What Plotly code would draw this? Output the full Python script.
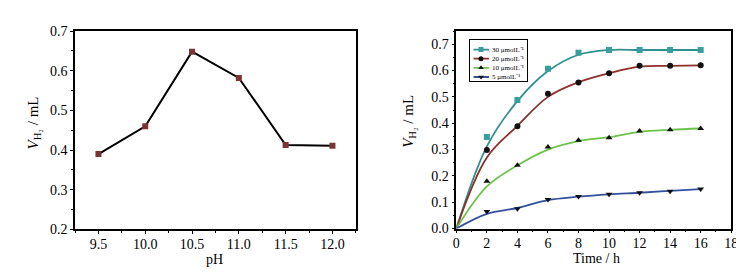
import plotly.graph_objects as go

# ---- Left panel data ----
ph = [9.5, 10.0, 10.5, 11.0, 11.5, 12.0]
vh2_ph = [0.390, 0.460, 0.648, 0.582, 0.413, 0.411]

# ---- Right panel data ----
time_pts = [2, 4, 6, 8, 10, 12, 14, 16]
v30 = [0.348, 0.488, 0.607, 0.668, 0.678, 0.678, 0.678, 0.678]
v20 = [0.298, 0.388, 0.512, 0.555, 0.590, 0.618, 0.618, 0.620]
v10 = [0.180, 0.240, 0.310, 0.335, 0.345, 0.370, 0.375, 0.380]
v5 = [0.065, 0.075, 0.110, 0.122, 0.130, 0.136, 0.142, 0.150]

# fitted curves
time_fit = [0, 2, 4, 6, 8, 10, 12, 14, 16]
f30 = [0.0, 0.312, 0.484, 0.598, 0.660, 0.678, 0.678, 0.678, 0.678]
f20 = [0.0, 0.270, 0.390, 0.500, 0.556, 0.590, 0.615, 0.618, 0.620]
f10 = [0.0, 0.160, 0.240, 0.300, 0.332, 0.347, 0.367, 0.375, 0.380]
f5 = [0.0, 0.056, 0.078, 0.108, 0.121, 0.130, 0.136, 0.143, 0.150]

labels = ["30 μmolL⁻¹", "20 μmolL⁻¹", "10 μmolL⁻¹", "5 μmolL⁻¹"]
line_colors = ["#2f9090", "#8e2f2a", "#6cc24a", "#34509c"]
marker_colors = ["#3a9e9e", "#111111", "#111111", "#111111"]
symbols = ["square", "circle", "triangle-up", "triangle-down"]

W, H = 744, 272
FONT = "Liberation Serif"

fig = go.Figure()

fig.add_trace(go.Scatter(
    x=ph, y=vh2_ph, mode="lines+markers", xaxis="x", yaxis="y",
    line=dict(color="black", width=2),
    marker=dict(symbol="square", size=6, color="#7a3434"),
    showlegend=False))

for fx, mx, lc, mc, sym in zip([f30, f20, f10, f5], [v30, v20, v10, v5],
                               line_colors, marker_colors, symbols):
    fig.add_trace(go.Scatter(
        x=time_fit, y=fx, mode="lines", xaxis="x2", yaxis="y2",
        line=dict(color=lc, width=1.8, shape="spline", smoothing=1.0),
        showlegend=False, hoverinfo="skip"))
    fig.add_trace(go.Scatter(
        x=time_pts, y=mx, mode="markers", xaxis="x2", yaxis="y2",
        marker=dict(symbol=sym, size=6, color=mc), showlegend=False))

# ---- hand-made legend box (small, like the original) ----
leg_rows = [0.76, 0.54, 0.32, 0.10]
for lab, lc, mc, sym, ry in zip(labels, line_colors, marker_colors, symbols, leg_rows):
    fig.add_trace(go.Scatter(
        x=[0.06, 0.33], y=[ry, ry], mode="lines", xaxis="x3", yaxis="y3",
        line=dict(color=lc, width=1.8), showlegend=False, hoverinfo="skip"))
    fig.add_trace(go.Scatter(
        x=[0.19], y=[ry], mode="markers", xaxis="x3", yaxis="y3",
        marker=dict(symbol=sym, size=5, color=mc), showlegend=False, hoverinfo="skip"))
    fig.add_annotation(x=0.34, y=ry, xref="x3", yref="y3", text=lab, showarrow=False,
                       xanchor="left", yanchor="middle",
                       font=dict(family=FONT, size=7, color="black"))


def px_dom_x(a, b):
    return [a / W, b / W]


def px_dom_y(top, bottom):
    return [1 - bottom / H, 1 - top / H]


axis_common = dict(showline=True, linecolor="black", linewidth=1.5, mirror=True,
                   ticks="outside", ticklen=3, tickwidth=1.3, tickcolor="black",
                   showgrid=False, zeroline=False,
                   tickfont=dict(family=FONT, size=14, color="black"))

ytitle = "<i>V</i><sub>H₂</sub> / mL"
for txt, xp, yp, ang, fs in [("pH", 206, 259, 0, 14), ("Time / h", 593, 258, 0, 14),
                             (ytitle, 22, 114, -90, 15), (ytitle, 403, 113, -90, 15)]:
    fig.add_annotation(x=xp / W, y=1 - yp / H, xref="paper", yref="paper", text=txt,
                       showarrow=False, textangle=ang, xanchor="center", yanchor="middle",
                       font=dict(family=FONT, size=fs, color="black"))

fig.update_layout(
    width=W, height=H, margin=dict(l=0, r=0, t=0, b=0),
    paper_bgcolor="white", plot_bgcolor="white",
    font=dict(family=FONT, color="black"),
    showlegend=False,
    xaxis=dict(domain=px_dom_x(64, 349), range=[9.25, 12.25], tickvals=[9.5, 10, 10.5, 11, 11.5, 12],
               ticktext=["9.5", "10.0", "10.5", "11.0", "11.5", "12.0"],
               minor=dict(ticks="outside", dtick=0.25, tick0=9.25, ticklen=2, tickcolor="black"),
               ticklabelstandoff=-2, anchor="y", **axis_common),
    yaxis=dict(domain=px_dom_y(17, 227), range=[0.2, 0.7], dtick=0.1, tickformat=".1f",
               minor=dict(ticks="outside", dtick=0.05, ticklen=2, tickcolor="black"),
               anchor="x", **axis_common),
    xaxis2=dict(domain=px_dom_x(451, 730), range=[0, 18], dtick=2,
                minor=dict(ticks="outside", dtick=1, ticklen=2, tickcolor="black"),
                ticklabelstandoff=-2, anchor="y2", **axis_common),
    yaxis2=dict(domain=px_dom_y(17, 226), range=[0, 0.75], dtick=0.1, tickformat=".1f",
                minor=dict(ticks="outside", dtick=0.05, ticklen=2, tickcolor="black"),
                anchor="x2", **axis_common),
    xaxis3=dict(domain=px_dom_x(465, 523), range=[0, 1], showline=True, mirror=True,
                linecolor="black", linewidth=1, showticklabels=False, ticks="",
                showgrid=False, zeroline=False, fixedrange=True, anchor="y3"),
    yaxis3=dict(domain=px_dom_y(26, 70), range=[0, 1], showline=True, mirror=True,
                linecolor="black", linewidth=1, showticklabels=False, ticks="",
                showgrid=False, zeroline=False, fixedrange=True, anchor="x3"),
)

fig.write_html("out.html")
